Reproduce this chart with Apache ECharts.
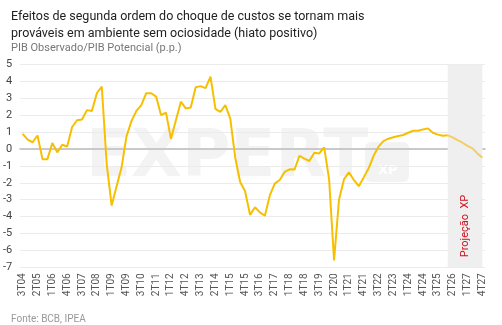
<!DOCTYPE html>
<html>
<head>
<meta charset="utf-8">
<script src="https://cdn.jsdelivr.net/npm/echarts@6/dist/echarts.min.js"></script>
<style>
html,body{margin:0;padding:0;background:#fff;}
#c{width:502px;height:325px;}
</style>
</head>
<body>
<div id="c"></div>
<script>
var categories = [
'3T04','4T04',
'1T05','2T05','3T05','4T05',
'1T06','2T06','3T06','4T06',
'1T07','2T07','3T07','4T07',
'1T08','2T08','3T08','4T08',
'1T09','2T09','3T09','4T09',
'1T10','2T10','3T10','4T10',
'1T11','2T11','3T11','4T11',
'1T12','2T12','3T12','4T12',
'1T13','2T13','3T13','4T13',
'1T14','2T14','3T14','4T14',
'1T15','2T15','3T15','4T15',
'1T16','2T16','3T16','4T16',
'1T17','2T17','3T17','4T17',
'1T18','2T18','3T18','4T18',
'1T19','2T19','3T19','4T19',
'1T20','2T20','3T20','4T20',
'1T21','2T21','3T21','4T21',
'1T22','2T22','3T22','4T22',
'1T23','2T23','3T23','4T23',
'1T24','2T24','3T24','4T24',
'1T25','2T25','3T25','4T25',
'1T26','2T26','3T26','4T26',
'1T27','2T27','3T27','4T27'
];

// Observed output gap (3T04 .. 1T26)
var observed = [
0.9, 0.55, 0.4, 0.8, -0.6, -0.6, 0.35, -0.2, 0.25, 0.15,
1.3, 1.7, 1.75, 2.3, 2.25, 3.3, 3.7, -0.9, -3.35, -2.2,
-1.1, 0.75, 1.65, 2.25, 2.6, 3.3, 3.3, 3.1, 2.0, 2.15,
0.6, 1.7, 2.8, 2.4, 2.45, 3.65, 3.72, 3.6, 4.28, 2.37,
2.2, 2.6, 1.8, -0.5, -1.95, -2.5, -3.9, -3.45, -3.75, -3.95,
-2.75, -2.05, -1.83, -1.36, -1.2, -1.22, -0.4, -0.57, -0.71, -0.22,
-0.26, 0.1, -1.8, -6.6, -3.0, -1.8, -1.38, -1.83, -2.2, -1.68,
-1.14, -0.4, 0.14, 0.47, 0.61, 0.69, 0.77, 0.83, 0.96, 1.08,
1.08, 1.16, 1.22, 0.96, 0.85, 0.79, 0.81
];

// XP projection (1T26 .. 4T27)
var projection = [0.81, 0.69, 0.53, 0.37, 0.18, 0.04, -0.26, -0.51];
var projectionStart = '1T26';
var projectionEnd = '4T27';

var yTicks = { min: -7, max: 5, interval: 1 };

var projIdx = categories.indexOf(projectionStart);
var projData = categories.map(function (c, i) {
  return i >= projIdx ? projection[i - projIdx] : null;
});

var chart = echarts.init(document.getElementById('c'), null, { renderer: 'canvas' });
chart.setOption({
  animation: false,
  backgroundColor: '#ffffff',
  textStyle: { fontFamily: 'Roboto, "Noto Sans", sans-serif' },
  title: [
    {
      text: 'Efeitos de segunda ordem do choque de custos se tornam mais\nprováveis em ambiente sem ociosidade (hiato positivo)',
      left: 6, top: 4,
      textStyle: { fontSize: 12.5, fontWeight: 'normal', color: '#222', lineHeight: 16.5, fontFamily: 'Roboto, sans-serif' }
    },
    {
      text: 'PIB Observado/PIB Potencial (p.p.)',
      left: 6, top: 38,
      textStyle: { fontSize: 11, fontWeight: 'normal', color: '#777', fontFamily: 'Roboto, sans-serif' }
    },
    {
      text: 'Fonte: BCB, IPEA',
      left: 6, top: 309,
      textStyle: { fontSize: 10, fontWeight: 'normal', color: '#999', fontFamily: 'Roboto, sans-serif' }
    }
  ],
  graphic: [
    {
      type: 'text', left: 86, top: 126, z: -10, silent: true,
      style: { text: 'EXPERT', fontSize: 66, fontWeight: 900, fill: '#f3f3f3', fontFamily: '"DejaVu Sans", sans-serif' }
    },
    {
      type: 'rect', left: 365, top: 142, z: -10, silent: true,
      shape: { width: 44, height: 40, r: 6 },
      style: { fill: '#f3f3f3' }
    },
    {
      type: 'text', left: 378, top: 164, z: -9, silent: true,
      style: { text: 'XP', fontSize: 13, fontWeight: 'bold', fill: '#ffffff', fontFamily: '"DejaVu Sans", sans-serif' }
    }
  ],
  grid: { left: 20.2, right: 17.2, top: 64.5, bottom: 57.7, containLabel: false },
  xAxis: {
    type: 'category',
    data: categories,
    boundaryGap: true,
    axisLine: { show: true, onZero: true, lineStyle: { color: '#c9c9c9', width: 2 } },
    axisTick: { show: false },
    axisLabel: { interval: 2, rotate: 90, fontSize: 10, color: '#555', margin: 6, fontFamily: 'Roboto, sans-serif' },
    splitLine: { show: false }
  },
  yAxis: {
    type: 'value',
    min: yTicks.min, max: yTicks.max, interval: yTicks.interval,
    axisLine: { show: false },
    axisTick: { show: false },
    axisLabel: { fontSize: 11, color: '#444', margin: 8, fontFamily: 'Roboto, sans-serif' },
    splitLine: { show: true, lineStyle: { color: '#ebebeb', width: 1 } }
  },
  series: [
    {
      name: 'Observado',
      type: 'line',
      data: observed,
      symbol: 'none',
      lineStyle: { color: '#F6C000', width: 2 },
      z: 3,
      markArea: {
        silent: true,
        itemStyle: { color: '#efefef' },
        label: {
          show: true, position: 'insideBottom', rotate: 90, distance: 10,
          align: 'left', verticalAlign: 'middle',
          color: '#d0101a', fontSize: 11, formatter: 'Projeção  XP'
        },
        data: [[{ xAxis: projectionStart, yAxis: yTicks.max }, { xAxis: projectionEnd, yAxis: yTicks.min }]]
      }
    },
    {
      name: 'Projeção',
      type: 'line',
      data: projData,
      symbol: 'none',
      lineStyle: { color: '#F1CF63', width: 2 },
      z: 4
    }
  ]
});
</script>
</body>
</html>
